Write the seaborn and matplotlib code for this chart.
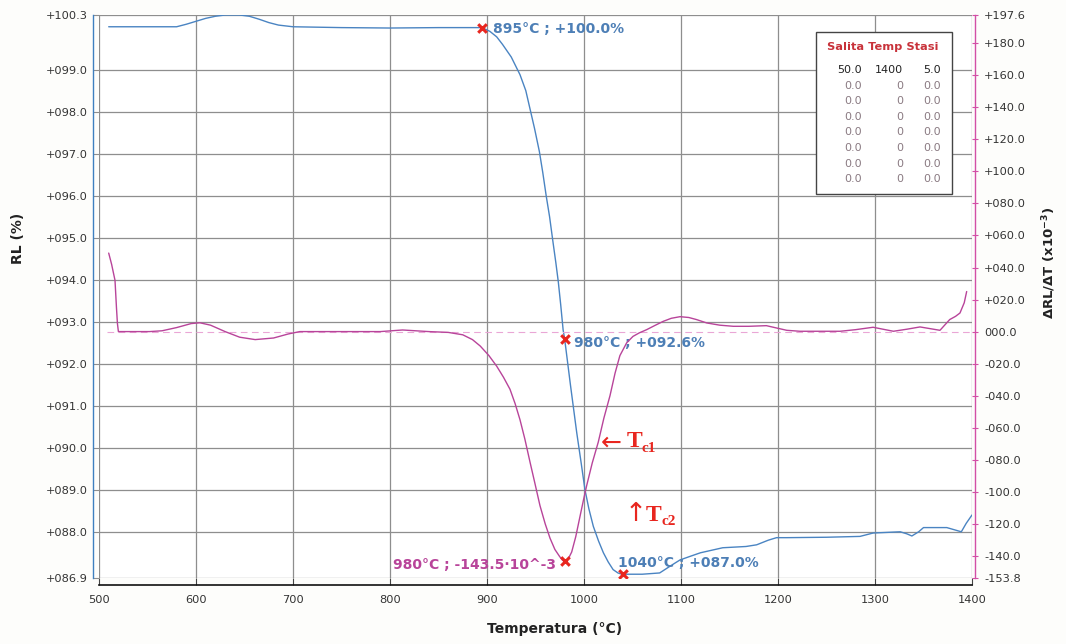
import matplotlib
matplotlib.use("Agg")
import matplotlib.pyplot as plt
import seaborn as sns
import pandas as pd
from matplotlib.patches import Rectangle

# ---------------- data ----------------
temp_rl = [510, 530, 560, 580, 590, 600, 610, 620, 630, 645, 655, 665, 675, 685, 700,
           750, 800, 850, 880, 895, 903, 910, 916, 925, 934, 940, 944, 949, 954, 957.5,
           961, 964.5, 968, 971, 973.5, 976, 978.5, 980, 986, 992.5, 997, 1001, 1005,
           1009.6, 1015, 1020, 1025, 1030, 1035, 1039, 1060, 1078, 1090, 1099, 1110,
           1120, 1143, 1167, 1178, 1190, 1198.5, 1209, 1250, 1284.5, 1298, 1326, 1333,
           1338, 1345, 1350, 1374, 1389, 1394, 1400]
rl_values = [100.02, 100.02, 100.02, 100.02, 100.08, 100.15, 100.22, 100.27, 100.3, 100.3,
             100.27, 100.2, 100.12, 100.06, 100.02, 100.0, 99.99, 100.0, 100.0, 100.0,
             99.91, 99.78, 99.6, 99.3, 98.88, 98.5, 98.1, 97.6, 97.05, 96.55, 96.0, 95.5,
             94.9, 94.4, 93.95, 93.4, 92.8, 92.6, 91.5, 90.36, 89.65, 89.0, 88.55, 88.13,
             87.78, 87.5, 87.28, 87.1, 87.02, 86.99, 86.99, 87.02, 87.2, 87.33, 87.42,
             87.5, 87.62, 87.65, 87.69, 87.8, 87.86, 87.86, 87.87, 87.89, 87.97, 88.0,
             87.95, 87.9, 88.0, 88.1, 88.1, 88.0, 88.2, 88.4]

temp_drv = [510, 513, 516.5, 518, 519, 520, 552, 565, 580, 595, 604, 615, 630, 645, 661,
            680, 695, 707, 750, 790, 813, 840, 860, 875, 885, 893, 902, 910, 917, 923.7,
            929, 934, 939, 944.4, 949.5, 954.6, 960, 965, 970, 975, 978, 980, 982,
            984.5, 987.3, 991.5, 996, 999.5, 1002.8, 1008.5, 1014.7, 1020.5, 1026.8,
            1032, 1037, 1044, 1050.5, 1057, 1064.6, 1073, 1081.7, 1090, 1099, 1108,
            1116, 1126.5, 1140, 1154, 1170, 1188, 1209, 1222.7, 1264, 1280, 1298, 1319,
            1333, 1346.4, 1367, 1377, 1383, 1387.6, 1392, 1394.5]
drv_values = [49, 42, 32, 15, 5, 0, 0, 0.5, 2.5, 5, 5.5, 4, 0, -3.5, -5, -4, -1.5, 0, 0,
              0, 1, 0, -0.5, -2, -5, -9, -15, -21.6, -28.5, -36, -45, -55, -67, -81.6,
              -95, -108.6, -120, -129, -136, -140.5, -142.8, -143.5, -143, -141,
              -137.6, -128, -115, -105, -96, -82, -69, -54, -40, -26, -15, -7, -3,
              -0.8, 1.2, 3.8, 6.4, 8.3, 9.3, 8.8, 7.5, 5.4, 4.0, 3.3, 3.3, 3.7, 0.8,
              0.2, 0.2, 1.2, 2.7, 0.2, 1.5, 2.9, 0.8, 7.5, 9.5, 11.6, 18, 25]

mark_temps = [895, 980, 1040]
mark_rl = [100.0, 92.6, 87.0]
mark_labels = ["895°C ; +100.0%", "980°C ; +092.6%", "1040°C ; +087.0%"]
min_temp = [980]
min_drv = [-143.5]
min_label = "980°C ; -143.5·10^-3"

x_ticks = list(range(500, 1401, 100))
left_ticks = [86.9, 88, 89, 90, 91, 92, 93, 94, 95, 96, 97, 98, 99, 100.3]
right_ticks = [-153.8, -140, -120, -100, -80, -60, -40, -20, 0, 20, 40, 60, 80, 100,
               120, 140, 160, 180, 197.6]

table_header = "Salita Temp Stasi"
table_rows = [["50.0", "1400", "5.0"]] + [["0.0", "0", "0.0"]] * 7

# ---------------- style ----------------
sns.set_style("white")
plt.rcParams["font.family"] = ["DejaVu Sans"]

BLUE = "#4a84c2"
BLUE_TXT = "#4d7fb6"
PINK = "#b8449a"
PINK_SPINE = "#d24fa6"
RED = "#e8261f"
GRID = "#8e8e8e"

W, H = 1066, 644
fig = plt.figure(figsize=(W / 100, H / 100), dpi=100, facecolor="#fdfdfb")
ax = fig.add_axes([99 / W, 1 - 578 / H, (972 - 99) / W, (578 - 15) / H])
ax.set_facecolor("white")
ax2 = ax.twinx()

df_rl = pd.DataFrame({"T": temp_rl, "RL": rl_values})
df_drv = pd.DataFrame({"T": temp_drv, "D": drv_values})

sns.lineplot(data=df_rl, x="T", y="RL", ax=ax, color=BLUE, lw=1.0, estimator=None)
sns.lineplot(data=df_drv, x="T", y="D", ax=ax2, color=PINK, lw=1.0, estimator=None)
ax2.axhline(0, xmin=0.009, color="#eaa6d6", lw=0.8, ls=(0, (6, 4)), zorder=1)

sns.scatterplot(x=mark_temps, y=mark_rl, ax=ax, marker="x", s=38, color=RED,
                linewidth=2.2, zorder=5)
sns.scatterplot(x=min_temp, y=min_drv, ax=ax2, marker="x", s=38, color=RED,
                linewidth=2.2, zorder=5)

# limits / ticks
ax.set_xlim(500, 1400)
ax.set_ylim(86.9, 100.3)
ax2.set_ylim(-153.8, 197.6)
ax.set_xticks(x_ticks)
ax.set_xticklabels([str(t) for t in x_ticks])
ax.set_yticks(left_ticks)
ax.set_yticklabels(["{:+06.1f}".format(v) for v in left_ticks])
ax2.set_yticks(right_ticks)
ax2.set_yticklabels(["000.0" if v == 0 else "{:+06.1f}".format(v) for v in right_ticks])

ax.grid(True, color=GRID, lw=0.9)
ax.set_axisbelow(True)

for s in ["top", "right"]:
    ax.spines[s].set_visible(False)
ax.spines["left"].set_position(("outward", 4.3))
ax.spines["left"].set_color("#3f7fc0")
ax.spines["left"].set_linewidth(1.0)
ax.spines["bottom"].set_position(("outward", 5))
ax.spines["bottom"].set_color("#111111")
ax.spines["bottom"].set_linewidth(1.2)
for s in ["top", "left", "bottom"]:
    ax2.spines[s].set_visible(False)
ax2.spines["right"].set_position(("outward", 2.2))
ax2.spines["right"].set_color(PINK_SPINE)
ax2.spines["right"].set_linewidth(1.0)

ax.tick_params(axis="y", direction="in", length=4.2, color=GRID, labelsize=8.2,
               pad=4, labelcolor="#333333", left=True)
ax.tick_params(axis="x", direction="in", length=5, color="#444444", labelsize=8.2,
               pad=7, labelcolor="#333333", bottom=True)
ax2.tick_params(axis="y", direction="inout", length=5, color=PINK_SPINE, labelsize=8.2,
                pad=4, labelcolor="#333333", right=True)

ax.set_xlabel("Temperatura (°C)", fontsize=10, fontweight="bold", color="#222222")
ax.xaxis.set_label_coords(0.522, -0.078)
ax.set_ylabel("RL (%)", fontsize=10, fontweight="bold", color="#222222")
ax.yaxis.set_label_coords(-0.085, 0.604)
ax2.set_ylabel("ΔRL/ΔT (x10$^{\\mathbf{-3}}$)", fontsize=9.5, fontweight="bold",
               color="#222222", rotation=90)
ax2.yaxis.set_label_coords(1.078, 0.56)


# ---------------- annotations ----------------
def px2T(x):
    return 500 + (x - 99) / 0.97


def py2RL(y):
    return 99 + (70 - y) / 42


ann_pos = [(493, 29), (574, 343), (618, 563)]
for (px, py), lab in zip(ann_pos, mark_labels):
    ax.text(px2T(px), py2RL(py), lab, color=BLUE_TXT, fontsize=10, fontweight="bold",
            ha="left", va="center", zorder=6)
ax.text(px2T(556), py2RL(565), min_label, color=PINK, fontsize=10, fontweight="bold",
        ha="right", va="center", zorder=6)

# Tc labels
ax.text(px2T(611), py2RL(443), "←", color=RED, fontsize=18, ha="center", va="center")
ax.text(px2T(627), py2RL(442), "T", color=RED, fontsize=17, fontweight="bold",
        family="Liberation Serif", ha="left", va="center")
ax.text(px2T(641), py2RL(449), "c1", color=RED, fontsize=11, fontweight="bold",
        family="Liberation Serif", ha="left", va="center")
ax.text(px2T(636), py2RL(514), "↑", color=RED, fontsize=19, ha="center", va="center")
ax.text(px2T(646), py2RL(516), "T", color=RED, fontsize=17, fontweight="bold",
        family="Liberation Serif", ha="left", va="center")
ax.text(px2T(661), py2RL(522), "c2", color=RED, fontsize=11, fontweight="bold",
        family="Liberation Serif", ha="left", va="center")

# ---------------- table box ----------------
fig.patches.append(Rectangle((816 / W, 1 - 194 / H), (952 - 816) / W, (194 - 32) / H,
                             transform=fig.transFigure, facecolor="white",
                             edgecolor="#444444", lw=1.0, zorder=10))
fig.text(883 / W, 1 - 46.5 / H, table_header, color="#c8323a", fontsize=8.2,
         fontweight="bold", ha="center", va="center", zorder=11)
col_right = [862, 903, 941]
for i, row in enumerate(table_rows):
    y = 70 + i * 15.6
    col = "#222222" if i == 0 else "#8a7a82"
    for cx, val in zip(col_right, row):
        fig.text(cx / W, 1 - y / H, val, color=col, fontsize=8, ha="right",
                 va="center", zorder=11)

fig.savefig("out.png", dpi=100, facecolor=fig.get_facecolor())
